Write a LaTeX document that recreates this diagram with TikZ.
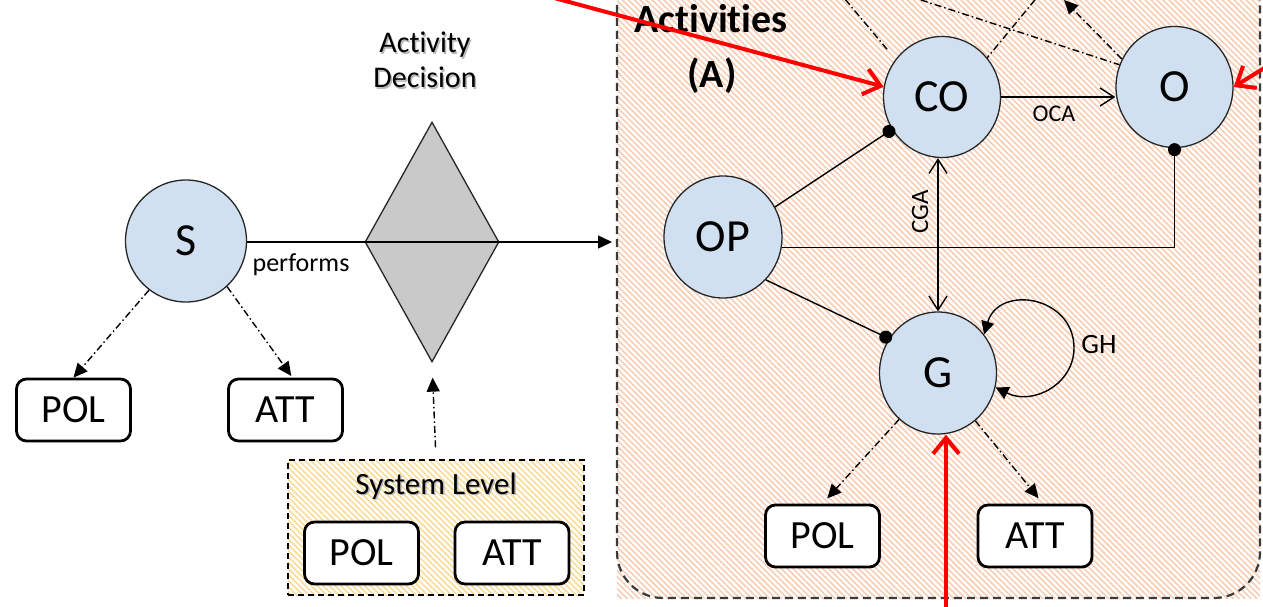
\documentclass[tikz,border=0pt]{standalone}
\usepackage{fontspec}
\setmainfont{Carlito}[Ligatures=NoCommon]
\usetikzlibrary{arrows.meta,shapes.geometric,patterns.meta}

\definecolor{nodeblue}{HTML}{D0E0F1}
\definecolor{decgray}{HTML}{C9C9C9}
\definecolor{salmonstripe}{HTML}{F8CDB3}
\definecolor{yellowstripe}{HTML}{FBDC96}
\definecolor{linegray}{HTML}{262626}
\definecolor{framegray}{HTML}{3A3A3A}
\definecolor{redarrow}{HTML}{FF0000}

\newcommand{\fsz}[2]{\fontsize{#1}{#2}\selectfont}

\begin{document}
\begin{tikzpicture}[x=1pt,y=-1pt,
  actor/.style={ellipse, draw=linegray, line width=1.3pt, fill=nodeblue,
    minimum width=117pt, minimum height=121pt, inner sep=0pt, font=\fsz{46}{50}},
  attr/.style={rectangle, rounded corners=10pt, draw=black, line width=2.8pt,
    fill=white, minimum width=114pt, minimum height=62pt, inner sep=0pt,
    font=\fsz{40}{44}},
  wire/.style={draw=black, line width=1.4pt},
  dashdot/.style={wire, dash pattern=on 7pt off 3pt on 1.5pt off 3pt},
  filledtip/.style={-{Triangle[length=14pt,width=13pt]}},
  dottip/.style={-{Circle[length=13pt,width=13pt]}},
  barbtip/.style={-{Straight Barb[length=14pt,width=18pt]}},
  barbboth/.style={{Straight Barb[length=14pt,width=18pt]}-{Straight Barb[length=14pt,width=18pt]}},
  looptips/.style={{Triangle[length=13pt,width=13pt]}-{Triangle[length=13pt,width=13pt]}},
  pointer/.style={draw=redarrow, line width=4pt, line cap=round,
    -{Straight Barb[length=16pt,width=26pt]}},
  txt/.style={inner sep=0pt, anchor=base},
  shadowtxt/.style={txt, text=black!28},
]
\useasboundingbox (0,0) rectangle (1263,607);
\begin{scope}
\clip (0,0) rectangle (1263,607);

% ---------- activities region ----------
\path[pattern={Lines[angle=-45,distance=4.2pt,line width=1.6pt]}, pattern color=salmonstripe]
  (617,-80) rectangle (1260,598);
\draw[framegray, line width=2.2pt, dash pattern=on 8pt off 5pt, rounded corners=46pt]
  (617,-80) rectangle (1260,598);
\node[txt, font=\bfseries\fsz{40}{44}] (acttitle) at (711,33) {Activities};
\node[txt, font=\bfseries\fsz{40}{44}] (actlabel) at (712,88) {(A)};

% ---------- left part: subject and decision ----------
\node[actor, minimum width=121pt, minimum height=122pt] (S) at (186,241) {S};
\node[attr] (polS) at (73.5,410) {POL};
\node[attr] (attS) at (285.5,410) {ATT};

\node[diamond, draw=linegray, line width=1.3pt, fill=decgray, aspect=0.554,
  minimum width=134pt, minimum height=240pt, inner sep=0pt] (dec) at (432,242) {};
\node[shadowtxt, font=\fsz{30}{34}] at (426.5,54.5) {Activity};
\node[txt, font=\fsz{30}{34}] (dectitle) at (425,53) {Activity};
\node[shadowtxt, font=\fsz{30}{34}] at (426.5,89.5) {Decision};
\node[txt, font=\fsz{30}{34}] (decsub) at (425,88) {Decision};

\node[rectangle, draw=black, line width=1.5pt, dash pattern=on 6pt off 4pt,
  pattern={Lines[angle=-45,distance=4.2pt,line width=1.6pt]}, pattern color=yellowstripe,
  minimum width=296pt, minimum height=135pt, inner sep=0pt] (sys) at (436,527.5) {};
\node[shadowtxt, font=\fsz{31}{34}] at (437.5,495.5) {System Level};
\node[txt, font=\fsz{31}{34}] (systitle) at (436,494) {System Level};
\node[attr] (polSys) at (361.5,553) {POL};
\node[attr] (attSys) at (512,553) {ATT};

\coordinate (actin) at (612,242);
\draw[wire, filledtip] (S.east |- actin) -- (actin);
\node[txt, font=\fsz{26}{30}] (perf) at (301,271) {performs};

\draw[dashdot, filledtip] (S.-127) -- (polS.north);
\draw[dashdot, filledtip, shorten >=2pt] (S.-48) -- ([xshift=7pt]attS.north);
\draw[dashdot, filledtip, shorten <=12pt, shorten >=15pt] (sys.north) -- (dec.south);

% ---------- activity nodes ----------
\node[actor] (CO) at (942,97) {CO};
\node[actor] (O) at (1174.5,87) {O};
\node[actor, minimum width=118pt, minimum height=122pt] (OP) at (723,237) {OP};
\node[actor, minimum height=122pt] (G) at (938,373) {G};
\node[attr] (polG) at (822.5,536) {POL};
\node[attr] (attG) at (1035,536) {ATT};

% dash-dot links leaving the region at the top
\coordinate (t1) at (808,-45);
\coordinate (t2) at (783,-45);
\coordinate (t3) at (1072,-45);
\coordinate (t4) at (1064,0);
\draw[dashdot, shorten >=13pt] (t1) -- (CO.141);
\draw[dashdot] (t2) -- (O.158);
\draw[dashdot] (t3) -- (CO.41);
\draw[dashdot, filledtip] (O.152) -- (t4);

% solid relations
\draw[wire, barbtip] (CO.east) -- (CO.east -| O.west);
\node[txt, font=\fsz{24}{28}] (oca) at (1054,122) {OCA};
\draw[wire, barbboth] (CO.south -| G.north) -- (G.north);
\node[font=\fsz{25}{28}, inner sep=0pt, rotate=90] (cga) at (920,212) {CGA};

\draw[wire, dottip, shorten >=-3pt] (OP.30) -- (CO.213);
\draw[wire, dottip, shorten >=-3pt] (OP.-45) -- (G.145);
\draw[wire, dottip, shorten >=-5pt] (OP.-10) -| (O.south);

\coordinate (ghturn) at (1074,348);
\draw[wire, looptips] (G.40) .. controls (999,284) and (1074,296) .. (ghturn)
  .. controls (1074,384) and (1033,406) .. (G.-14);
\node[txt, font=\fsz{28}{30}] (gh) at (1099,353) {GH};

\draw[dashdot, filledtip, shorten >=7pt] (G.-130) -- (polG.north);
\draw[dashdot, filledtip, shorten >=7pt] (G.-52) -- ([xshift=8pt]attG.north);

% ---------- red pointers ----------
\coordinate (redA) at (480,-22);
\coordinate (redB) at (1290,52);
\coordinate (redC) at (946,640);
\draw[pointer] (redA) -- (CO.170);
\draw[pointer] (redB) -- (O.east);
\draw[pointer] (redC) -- (redC |- G.south);
\end{scope}
\end{tikzpicture}
\end{document}
